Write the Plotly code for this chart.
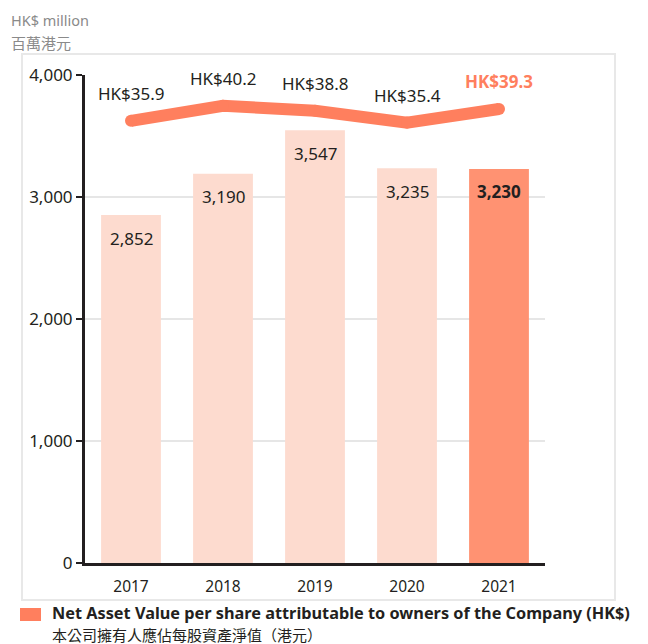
import plotly.graph_objects as go

years = ["2017", "2018", "2019", "2020", "2021"]
nav_million = [2852, 3190, 3547, 3235, 3230]
nav_labels = ["2,852", "3,190", "3,547", "3,235", "3,230"]
nav_per_share = [35.9, 40.2, 38.8, 35.4, 39.3]
per_share_labels = ["HK$35.9", "HK$40.2", "HK$38.8", "HK$35.4", "HK$39.3"]

y_ticks = [0, 1000, 2000, 3000, 4000]
y_tick_labels = ["0", "1,000", "2,000", "3,000", "4,000"]

LIGHT = "#fddbcf"
DARK = "#ff9272"
LINE = "#ff7f5e"
TEXT = "#231f20"
FONT = "Noto Sans, Noto Sans CJK TC, sans-serif"
CJK = "Noto Sans CJK TC"

bar_colors = [LIGHT] * (len(years) - 1) + [DARK]

W, H = 648, 644
pl, pr, pt, pb = 85, 545, 75, 563

def px(x):
    return (x - pl) / (pr - pl)

def py(y):
    return (pb - y) / (pb - pt)

fig = go.Figure()
fig.add_trace(go.Bar(
    x=years, y=nav_million, marker=dict(color=bar_colors, line=dict(width=0)),
    width=0.65, showlegend=False, hoverinfo="skip",
))
fig.add_trace(go.Scatter(
    x=years, y=nav_per_share, yaxis="y2", mode="lines+markers",
    line=dict(color=LINE, width=12), marker=dict(color=LINE, size=12),
    showlegend=False, hoverinfo="skip",
))

annotations = []
n = len(years)
for i, (v, lab) in enumerate(zip(nav_million, nav_labels)):
    last = i == n - 1
    annotations.append(dict(
        x=i, y=v, xref="x", yref="y", text=f"<b>{lab}</b>" if last else lab,
        showarrow=False, yshift=-23,
        font=dict(family=FONT, size=17, color=TEXT),
    ))
for i, (v, lab) in enumerate(zip(nav_per_share, per_share_labels)):
    last = i == n - 1
    annotations.append(dict(
        x=i, y=v, xref="x", yref="y2", text=f"<b>{lab}</b>" if last else lab,
        showarrow=False, yshift=27,
        font=dict(family=FONT, size=17, color=LINE if last else TEXT),
    ))

annotations += [
    dict(x=px(9), y=py(20), xref="paper", yref="paper", text="HK$ million",
         showarrow=False, xanchor="left", yanchor="middle",
         font=dict(family=FONT, size=14.5, color="#8a8a8a")),
    dict(x=px(9), y=py(43), xref="paper", yref="paper", text="百萬港元",
         showarrow=False, xanchor="left", yanchor="middle",
         font=dict(family=CJK, size=15, color="#8a8a8a")),
    dict(x=px(50), y=py(613), xref="paper", yref="paper",
         text="<b>Net Asset Value per share attributable to owners of the Company (HK$)</b>",
         showarrow=False, xanchor="left", yanchor="middle",
         font=dict(family=FONT, size=16.3, color=TEXT)),
    dict(x=px(50), y=py(634), xref="paper", yref="paper",
         text="本公司擁有人應佔每股資產淨值（港元）",
         showarrow=False, xanchor="left", yanchor="middle",
         font=dict(family=CJK, size=15, color=TEXT)),
]

shapes = [
    dict(type="rect", xref="paper", yref="paper", x0=px(22), x1=px(615), y0=py(54), y1=py(600),
         line=dict(color="#e8e8e8", width=2), fillcolor="rgba(0,0,0,0)", layer="below"),
    dict(type="rect", xref="paper", yref="paper", x0=px(20), x1=px(41), y0=py(608), y1=py(621),
         line=dict(width=0), fillcolor=LINE),
]

fig.update_layout(
    width=W, height=H,
    margin=dict(l=pl, r=W - pr, t=pt, b=H - pb),
    paper_bgcolor="white", plot_bgcolor="white",
    xaxis=dict(
        type="category", range=[-0.5, 4.5], showgrid=False,
        showline=True, linecolor=TEXT, linewidth=3,
        ticks="outside", ticklen=7, tickcolor="rgba(0,0,0,0)",
        tickfont=dict(family=FONT, size=15.5, color=TEXT),
    ),
    yaxis=dict(
        range=[0, 4000], tickvals=y_ticks, ticktext=y_tick_labels,
        showgrid=True, gridcolor="#e6e6e6", gridwidth=2, zeroline=False,
        showline=True, linecolor=TEXT, linewidth=3,
        ticks="outside", ticklen=6, tickwidth=2, tickcolor=TEXT,
        tickfont=dict(family=FONT, size=17, color=TEXT),
    ),
    yaxis2=dict(
        overlaying="y", side="right", range=[-90.4, 49.0], visible=False,
    ),
    annotations=annotations,
    shapes=shapes,
)

fig.write_html("out.html", config={"displayModeBar": False},
               post_script="document.body.style.margin='0';")
